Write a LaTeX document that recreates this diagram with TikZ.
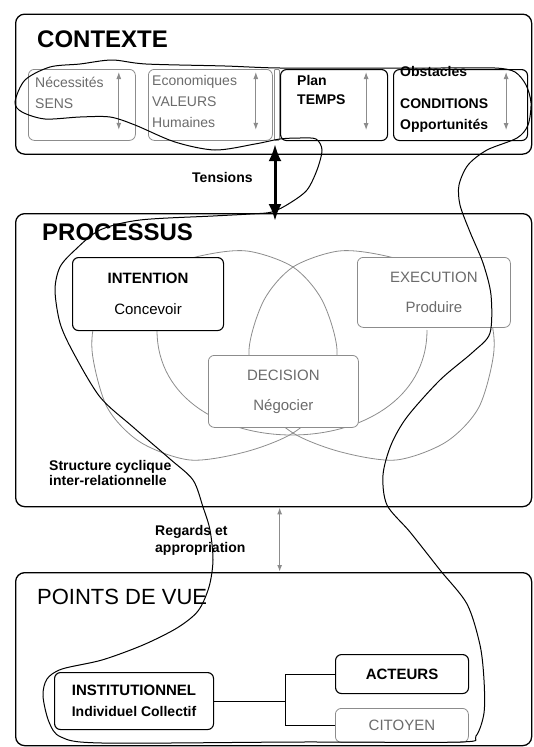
\documentclass[tikz,border=0pt]{standalone}
\usepackage{fontspec}
\setmainfont{Liberation Sans}
\usepackage{xcolor}
\usetikzlibrary{arrows.meta, positioning}
\definecolor{greyLine}{gray}{0.55}
\definecolor{greyText}{gray}{0.42}
\tikzset{
    bigBox/.style={draw=black, line width=1.3pt, rounded corners=9pt, anchor=north west, inner sep=0pt},
    blackBox/.style={draw=black, fill=white, line width=1.1pt, rounded corners=6pt, anchor=north west, inner sep=0pt, align=center},
    greyBox/.style={draw=greyLine, fill=white, line width=0.8pt, rounded corners=6pt, anchor=north west, inner sep=0pt, align=center, text=greyText},
    titleText/.style={anchor=north west, inner sep=0pt, font=\fontsize{24}{26}\selectfont\bfseries},
    boxText/.style={anchor=north west, align=left, inner sep=0pt, font=\fontsize{14}{21}\selectfont},
    noteText/.style={anchor=north west, align=left, inner sep=0pt, font=\fontsize{14}{17}\selectfont\bfseries},
    sideArrow/.style={<->, greyLine, line width=1pt},
    tensArrow/.style={{Latex[length=17pt,width=13pt]}-{Latex[length=17pt,width=13pt]}, line width=3pt},
    vennLine/.style={draw=greyLine, line width=0.8pt},
    loopLine/.style={draw=black, line width=1pt},
    linkLine/.style={draw=black, line width=1pt}
}

\begin{document}
\begin{tikzpicture}[x=1pt, y=-1pt, >={Latex[length=7pt, width=5pt]}]
    \useasboundingbox (0,0) rectangle (534,747);
    % frames
    \node[bigBox, minimum width=516pt, minimum height=140pt] (CtxBox) at (15,13.5) {};
    \node[bigBox, minimum width=516pt, minimum height=293pt] (ProcBox) at (15,213) {};
    \node[bigBox, minimum width=516pt, minimum height=173pt] (VueBox) at (15,572) {};
    \node[titleText] (CtxTitle) at (37,30.5) {CONTEXTE};
    \node[titleText] (ProcTitle) at (42,224) {PROCESSUS};
    \node[titleText, font=\fontsize{22}{24}\selectfont] (VueTitle) at (37,589) {POINTS DE VUE};

    % context row
    \node[greyBox, minimum width=107pt, minimum height=71pt] (SensBox) at (28,69) {};
    \node[greyBox, minimum width=124pt, minimum height=71pt] (ValBox) at (148,69) {};
    \node[greyBox, minimum width=5pt, minimum height=71pt, rounded corners=1pt] (GapBox) at (274,69) {};
    \node[blackBox, minimum width=107pt, minimum height=71pt] (TempsBox) at (280,69) {};
    \node[blackBox, minimum width=134pt, minimum height=71pt] (CondBox) at (393,69) {};
    \node[boxText, text=greyText] (SensTxt) at (35,77) {Nécessités\\SENS};
    \node[boxText, text=greyText] (ValTxt) at (152,75) {Economiques\\VALEURS\\Humaines};
    \node[boxText, font=\fontsize{14}{19}\selectfont\bfseries] (TempsTxt) at (297,75) {Plan\\TEMPS};
    \node[boxText, font=\fontsize{14}{21}\selectfont\bfseries] (CondTxt) at (400,66) {Obstacles\\[11pt]CONDITIONS\\Opportunités};
    \foreach \b/\d in {SensBox/17, ValBox/17, TempsBox/22, CondBox/22}
        \draw[sideArrow] ([xshift=-\d pt, yshift=-3pt]\b.north east) -- ([xshift=-\d pt, yshift=11pt]\b.south east);

    % cyclic structure
    \draw[vennLine] plot[smooth cycle] coordinates {(293,267) (322,300) (337,350) (327,400) (293,433) (245,452) (190,460) (140,442) (107,407) (92,350) (100,310) (140,275) (200,256) (247,251)};
    \draw[vennLine] plot[smooth cycle] coordinates {(293,267) (264,300) (249,350) (259,400) (293,433) (341,452) (396,460) (446,442) (479,407) (494,350) (486,310) (446,275) (386,256) (339,251)};
    \draw[vennLine] (157,330) .. controls (157,470) and (427,470) .. (427,330);
    \node[blackBox, minimum width=151pt, minimum height=73pt, font=\fontsize{15}{20}\selectfont] (IntentBox) at (72,257) {\textbf{INTENTION}\\[11pt]Concevoir};
    \node[greyBox, minimum width=153pt, minimum height=70pt, font=\fontsize{15}{20}\selectfont] (ExecBox) at (357,257) {EXECUTION\\[10pt]Produire};
    \node[greyBox, minimum width=150pt, minimum height=72pt, font=\fontsize{15}{20}\selectfont] (DecBox) at (208,355) {DECISION\\[10pt]Négocier};
    \node[noteText, font=\fontsize{14}{15}\selectfont\bfseries] (CycleTxt) at (49,460) {Structure cyclique\\inter-relationnelle};

    % points of view
    \node[blackBox, minimum width=159pt, minimum height=57pt, font=\fontsize{15}{18}\selectfont\bfseries] (InstBox) at (54,672) {INSTITUTIONNEL\\[3pt]{\fontsize{14}{17}\selectfont Individuel Collectif}};
    \node[blackBox, minimum width=133pt, minimum height=39pt, font=\fontsize{15}{18}\selectfont\bfseries] (ActBox) at (335,654) {ACTEURS};
    \node[greyBox, minimum width=133pt, minimum height=34pt, font=\fontsize{15}{18}\selectfont] (CitBox) at (335,708) {CITOYEN};
    \draw[linkLine] (InstBox.east) -- ++(71,0) coordinate (Fork);
    \draw[linkLine] (Fork) |- (ActBox.west);
    \draw[linkLine] (Fork) |- (CitBox.west);

    % links between frames
    \coordinate (TensTop) at ([xshift=-5pt, yshift=-3pt]TempsBox.south west);
    \draw[tensArrow, shorten >=-8pt] (TensTop) -- (TensTop |- ProcBox.north);
    \node[noteText] (TensTxt) at (192,172) {Tensions};
    \draw[<->, greyLine, line width=1.5pt] ([xshift=6pt]ProcBox.south) -- ([xshift=6pt]VueBox.north);
    \node[noteText] (RegTxt) at (155,525) {Regards et\\appropriation};

    % the loop
    \draw[loopLine] plot[smooth cycle] coordinates {(15,102) (25,80) (50,67) (80,64) (112,60) (146,64) (225,66) (280,68) (380,68) (440,68) (495,68) (515,72) (526,85) (531,103) (528,125) (517,138) (487,150) (468,165) (459,185) (460,205) (470,232) (483,263) (491,295) (490,333) (473,352) (440,380) (407,417) (391,445) (383,475) (387,505) (410,532) (440,570) (467,604) (480,645) (484,680) (484,713) (476,736) (460,742) (300,742) (102,743) (61,737) (49,722) (43,696) (47,679) (62,669) (102,660) (143,645) (177,628) (198,611) (209,587) (213,560) (210,530) (203,507) (193,480) (170,459) (133,427) (100,397) (73,352) (60,323) (55,290) (60,267) (75,250) (100,230) (140,220) (213,216) (250,214) (272,212) (290,203) (307,190) (317,170) (322,150) (316,139) (300,138) (280,139) (255,144) (215,150) (175,142) (135,125) (110,117) (80,117) (45,119) (22,112)};
\end{tikzpicture}
\end{document}
